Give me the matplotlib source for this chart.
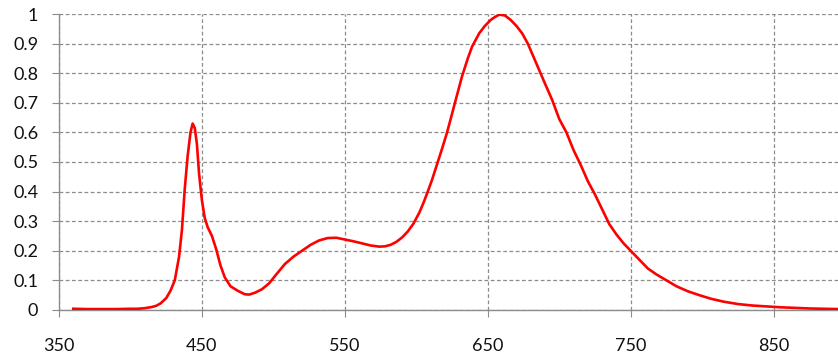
import matplotlib.pyplot as plt

# spectrum (wavelength nm, relative intensity)
wavelength = [360, 370, 380, 390, 400, 405, 410, 415, 418, 421, 425, 428, 431, 434, 436,
              438, 440, 442, 443.5, 445, 446.5, 448, 450, 452, 454, 457, 460, 463, 466,
              470, 475, 480, 483, 487, 492, 497, 502, 508, 514, 520, 526, 532, 538, 544,
              550, 556, 562, 568, 574, 578, 582, 586, 590, 594, 598, 602, 605, 608, 611,
              615, 618, 621.5, 624, 627, 632, 636, 639, 644, 648, 652, 655, 658, 662, 666,
              670, 674, 678, 682, 686, 690, 695, 700, 705, 710, 715, 720, 725, 730, 735,
              740, 745, 750, 756, 762, 768, 775, 782, 790, 798, 806, 815, 825, 835, 845,
              855, 865, 875, 885, 895]
intensity = [0.004, 0.003, 0.003, 0.003, 0.004, 0.004, 0.006, 0.010, 0.014, 0.022, 0.040,
             0.065, 0.100, 0.180, 0.270, 0.410, 0.520, 0.600, 0.630, 0.615, 0.560, 0.460,
             0.370, 0.310, 0.280, 0.250, 0.205, 0.150, 0.110, 0.080, 0.065, 0.053, 0.052,
             0.058, 0.070, 0.090, 0.120, 0.155, 0.180, 0.200, 0.220, 0.235, 0.243, 0.244,
             0.238, 0.232, 0.225, 0.218, 0.214, 0.215, 0.220, 0.230, 0.245, 0.265, 0.292,
             0.328, 0.362, 0.400, 0.440, 0.500, 0.545, 0.600, 0.645, 0.700, 0.790, 0.850,
             0.890, 0.935, 0.960, 0.980, 0.990, 0.998, 0.995, 0.980, 0.960, 0.935, 0.900,
             0.855, 0.810, 0.765, 0.710, 0.645, 0.600, 0.540, 0.490, 0.435, 0.390, 0.340,
             0.290, 0.255, 0.225, 0.200, 0.170, 0.140, 0.120, 0.100, 0.080, 0.063, 0.050,
             0.038, 0.028, 0.020, 0.015, 0.012, 0.009, 0.007, 0.005, 0.004, 0.003]

x_ticks = [350, 450, 550, 650, 750, 850]
y_ticks = [0, 0.1, 0.2, 0.3, 0.4, 0.5, 0.6, 0.7, 0.8, 0.9, 1]
y_labels = ['0', '0.1', '0.2', '0.3', '0.4', '0.5', '0.6', '0.7', '0.8', '0.9', '1']

plt.rcParams['font.family'] = ['Lato', 'DejaVu Sans']
grid_col = '#8c8c8c'

fig = plt.figure(figsize=(8.38, 3.6), dpi=100)
ax = fig.add_axes([0.0704, 0.139, 0.9296, 0.822])

ax.plot(wavelength, intensity, color='#ff0000', linewidth=1.9, zorder=3)

ax.set_xlim(350, 895)
ax.set_ylim(0, 1)
ax.set_xticks(x_ticks)
ax.set_yticks(y_ticks)
ax.set_yticklabels(y_labels)

ax.grid(True, color=grid_col, linestyle=(0, (3, 2)), linewidth=0.9)
ax.set_axisbelow(True)

for side in ['top', 'right']:
    ax.spines[side].set_visible(False)
for side in ['left', 'bottom']:
    ax.spines[side].set_color(grid_col)
    ax.spines[side].set_linewidth(1.0)

ax.tick_params(axis='x', direction='out', length=5, color=grid_col, labelsize=13, pad=15,
               labelcolor='#111111')
ax.tick_params(axis='y', direction='out', length=5, color=grid_col, labelsize=13, pad=10,
               labelcolor='#111111')

fig.savefig('out.png', dpi=100)
